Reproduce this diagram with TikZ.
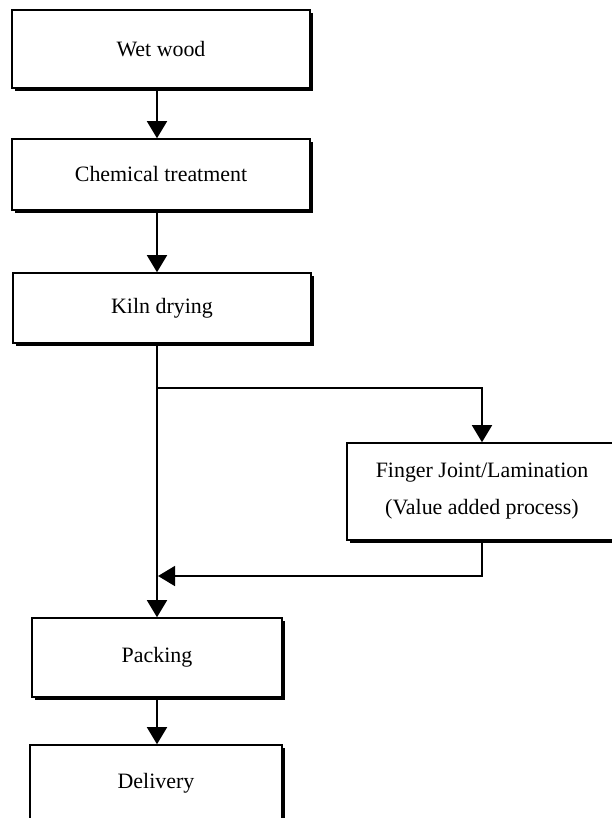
\documentclass[tikz,border=0pt]{standalone}
\usepackage{fontspec}
\setmainfont{Liberation Serif}
\usetikzlibrary{arrows.meta,shadows}
\begin{document}
\begin{tikzpicture}[x=1bp,y=-1bp,
  box/.style={draw, line width=1.6bp, fill=white, inner sep=0pt, align=center,
    font=\fontsize{22}{37}\selectfont,
    drop shadow={shadow xshift=3bp, shadow yshift=-3bp, fill=black, opacity=1}},
  arr/.style={line width=1.6bp, -{Triangle[width=20bp,length=17bp]}},
  ln/.style={line width=1.6bp}]
\useasboundingbox (0,0) rectangle (612,818);
\node[box, minimum width=298bp, minimum height=78bp] (ww) at (161,49) {Wet wood};
\node[box, minimum width=298bp, minimum height=71bp] (ct) at (161,174.5) {Chemical treatment};
\node[box, minimum width=298bp, minimum height=70bp] (kd) at (162,308) {Kiln drying};
\node[box, minimum width=270bp, minimum height=97bp] (fj) at (482,491.5) {Finger Joint/Lamination\\(Value added process)};
\node[box, minimum width=250bp, minimum height=79bp] (pk) at (157,657.5) {Packing};
\node[box, minimum width=252bp, minimum height=76bp] (dl) at (156,783) {Delivery};
\coordinate (br) at (157,388);
\coordinate (mg) at (158,576);
\draw[arr] (ww.south -| pk.north) -- (ct.north -| pk.north);
\draw[arr] (ct.south -| pk.north) -- (kd.north -| pk.north);
\draw[arr] (kd.south -| pk.north) -- (pk.north);
\draw[arr] (br) -| (fj.north);
\draw[arr] (fj.south) |- (mg);
\draw[arr] (pk.south) -- (dl.north -| pk.south);
\end{tikzpicture}
\end{document}
